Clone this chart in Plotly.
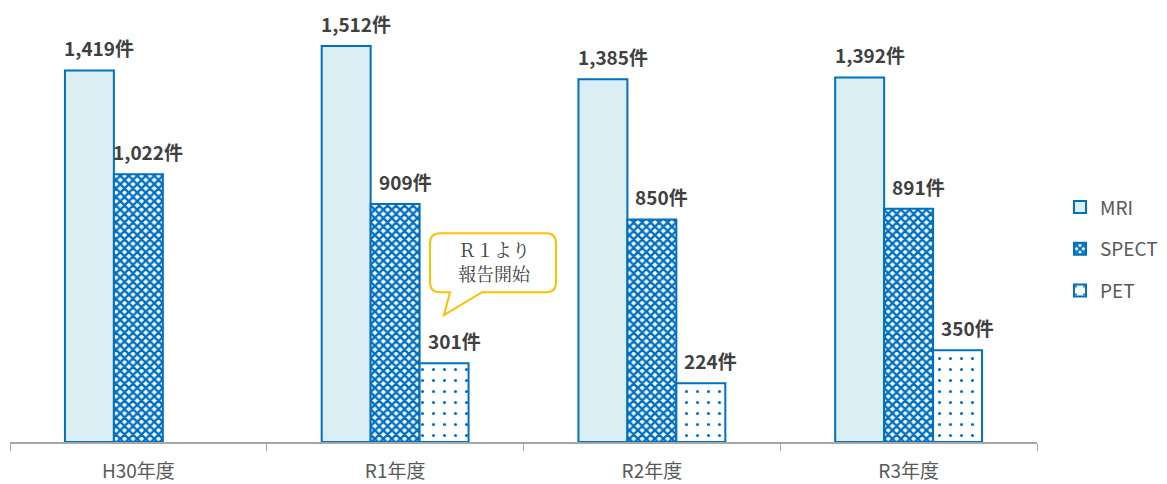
import plotly.graph_objects as go

categories = ["H30年度", "R1年度", "R2年度", "R3年度"]
mri = [1419, 1512, 1385, 1392]
spect = [1022, 909, 850, 891]
pet = [None, 301, 224, 350]
callout_lines = ["Ｒ１より", "報告開始"]

# page body has an 8px margin, so the figure is sized/offset to compensate
OFF = 8
W, H = 1167 - OFF, 484 - OFF
L, R, T, B = 2, 130, 14.5, 42
pw, ph = W - L - R, H - T - B

def px(x):  # screen px -> paper
    return (x - OFF - L) / pw

def py(y):
    return (H - B - (y - OFF)) / ph

blue = "#0070C0"
label_font = dict(family="Noto Sans CJK JP", size=19, color="#404040")

fig = go.Figure()
fig.add_trace(go.Bar(
    name="MRI", x=categories, y=mri, legendgroup="a",
    marker=dict(color="#DAEEF3", line=dict(color=blue, width=2)),
))
fig.add_trace(go.Bar(
    name="SPECT", x=categories, y=spect, legendgroup="b",
    marker=dict(color="white", line=dict(color=blue, width=2),
                pattern=dict(shape="x", size=6, solidity=0.65, fgcolor=blue,
                             fgopacity=1, bgcolor="white")),
))
fig.add_trace(go.Bar(
    name="PET", x=categories, y=pet, legendgroup="c",
    marker=dict(color="white", line=dict(color=blue, width=2),
                pattern=dict(shape=".", size=11, solidity=0.06, fgcolor=blue,
                             fgopacity=1, bgcolor="white")),
))

# data labels
bar_px = 49
for series, shift in ((mri, -bar_px), (spect, 0), (pet, bar_px)):
    for cat, v in zip(categories, series):
        if v is None:
            continue
        fig.add_annotation(x=cat, y=v, xref="x", yref="y", text=f"<b>{v:,}件</b>",
                           showarrow=False, xanchor="center", yanchor="bottom",
                           xshift=shift + 10, yshift=7, font=label_font)

# callout bubble
x0, x1, y0, y1, r = 430, 556, 233, 292, 10
tb0, tb1, tipx, tipy = 450, 482, 444, 315
path = (
    f"M {px(x0+r)},{py(y0)} L {px(x1-r)},{py(y0)} Q {px(x1)},{py(y0)} {px(x1)},{py(y0+r)} "
    f"L {px(x1)},{py(y1-r)} Q {px(x1)},{py(y1)} {px(x1-r)},{py(y1)} "
    f"L {px(tb1)},{py(y1)} L {px(tipx)},{py(tipy)} L {px(tb0)},{py(y1)} "
    f"L {px(x0+r)},{py(y1)} Q {px(x0)},{py(y1)} {px(x0)},{py(y1-r)} "
    f"L {px(x0)},{py(y0+r)} Q {px(x0)},{py(y0)} {px(x0+r)},{py(y0)} Z"
)
fig.add_shape(type="path", path=path, xref="paper", yref="paper",
              line=dict(color="#FFC000", width=2), fillcolor="white", layer="above")
for line_text, ly in zip(callout_lines, (249, 273)):
    fig.add_annotation(x=px((x0 + x1) / 2 + 1), y=py(ly), xref="paper", yref="paper",
                       text=line_text, showarrow=False, yanchor="middle",
                       font=dict(family="Noto Serif CJK JP, Noto Sans CJK JP", size=18,
                                 color="#404040"))

fig.update_layout(
    width=W, height=H, margin=dict(l=L, r=R, t=T, b=B),
    plot_bgcolor="white", paper_bgcolor="white",
    barmode="group", bargap=0.428, bargroupgap=0,
    legend=dict(x=px(1060), y=py(249), xanchor="left", yanchor="middle",
                font=dict(family="Noto Sans CJK JP", size=19, color="#595959"),
                tracegroupgap=14),
    xaxis=dict(showline=True, linecolor="#A6A6A6", linewidth=1.5,
               ticks="outside", tickson="boundaries", ticklen=7, tickcolor="#A6A6A6",
               ticklabelstandoff=11,
               tickfont=dict(family="Noto Sans CJK JP", size=19, color="#595959")),
    yaxis=dict(range=[0, 1600], visible=False, showgrid=False),
)

fig.write_html("out.html")
